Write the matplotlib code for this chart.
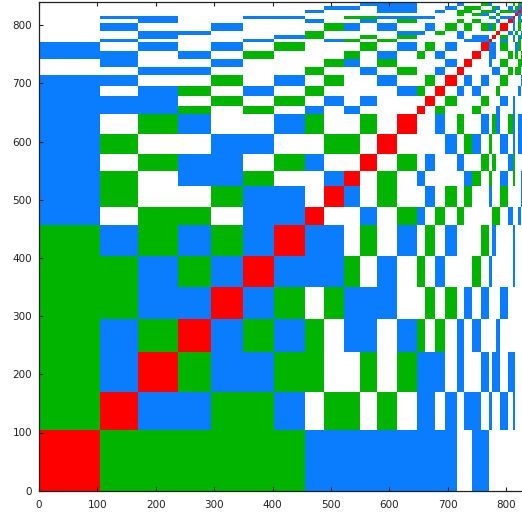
import numpy as np
import matplotlib
matplotlib.use("Agg")
import matplotlib.pyplot as plt
from matplotlib.colors import ListedColormap, BoundaryNorm

# Block boundaries along both axes
edges = [0, 104, 170, 238, 295, 350, 403, 456, 488, 523, 550, 578, 613, 647, 661,
         678, 696, 715, 728, 741, 756, 771, 776, 783, 790, 803, 811, 815, 821, 826,
         833, 840]

# Upper triangle: row i lists the blocks i+1, i+2, ... (W none, B blue, G green)
upper_rows = [
    "GGGGGGBBBBBBBBBBWWBB",
    "BBGGBWGGWGWBBWBWBBWBWWBWB",
    "GBBGGWWGWGBBBWBWWBWBBWBB",
    "BGBGWBBWBGWGWBWBWWWB",
    "BGWGBBBWWGWGWBWBWWWB",
    "BBBGWBWGWBWWWGWBWWWWB",
    "BBWGWBWGWBWWWGWBWWWB",
    "WWBWGBWGWGWWWWGGWBWWB",
    "BWGWWBWGWGWWBWWGWWWWB",
    "WGWBWWWWBGWGWWBWGWWB",
    "WGWBWWBWWGWGWWBGWWWB",
    "WWWWBWGBWGWWBWBWBBB",
    "WWBWGWWBWGBWGBWBBB",
    "WGWWWGWWWBWWB",
    "WGWWWGWWWBWB",
    "WBWBWWWGWWWWB",
    "WBWBWWWGWWWWB",
    "WWWWBBWGWGGWB",
    "WWBWWGWWWGG",
    "WBBWWGWGWG",
    "BBWGWWBGWG",
    "WWBWGWGWB",
    "WGWBWBGW",
    "WBWGWB",
    "WBWGW",
    "BWGB",
    "WBWG",
    "BGW",
    "BG",
    "B",
    "",
]

x_ticks = [0, 100, 200, 300, 400, 500, 600, 700, 800]
y_ticks = [0, 100, 200, 300, 400, 500, 600, 700, 800]

codes = {"W": 0, "B": 1, "G": 2}
n = len(edges) - 1
matrix = np.zeros((n, n), dtype=int)
for i, row in enumerate(upper_rows):
    matrix[i, i] = 3
    for k, ch in enumerate(row):
        matrix[i, i + 1 + k] = codes[ch]
        matrix[i + 1 + k, i] = codes[ch]

W, H = 522, 515
fig = plt.figure(figsize=(W / 100, H / 100), dpi=100, facecolor="white")
x_px = 0.584 * edges[-1]
y_px = 0.582 * edges[-1]
ax = fig.add_axes([39 / W, (H - 490.7) / H, x_px / W, y_px / H])

cmap = ListedColormap(["#FFFFFF", "#0A7DFF", "#00B400", "#FF0000"])
norm = BoundaryNorm([-0.5, 0.5, 1.5, 2.5, 3.5], cmap.N)
ax.pcolormesh(edges, edges, matrix, cmap=cmap, norm=norm, shading="flat",
              linewidth=0, antialiased=False)
ax.set_xlim(edges[0], edges[-1])
ax.set_ylim(edges[0], edges[-1])
ax.set_xticks(x_ticks)
ax.set_yticks(y_ticks)
ax.tick_params(direction="in", length=3, width=0.8, color="#222222",
               top=True, right=True, labelsize=7.5, labelcolor="#222222")
ax.tick_params(axis="x", pad=7)
ax.tick_params(axis="y", pad=5)
for s in ax.spines.values():
    s.set_linewidth(0.9)
    s.set_color("#222222")
for lab in ax.get_xticklabels() + ax.get_yticklabels():
    lab.set_family("DejaVu Sans")

fig.savefig("out.png", dpi=100)
